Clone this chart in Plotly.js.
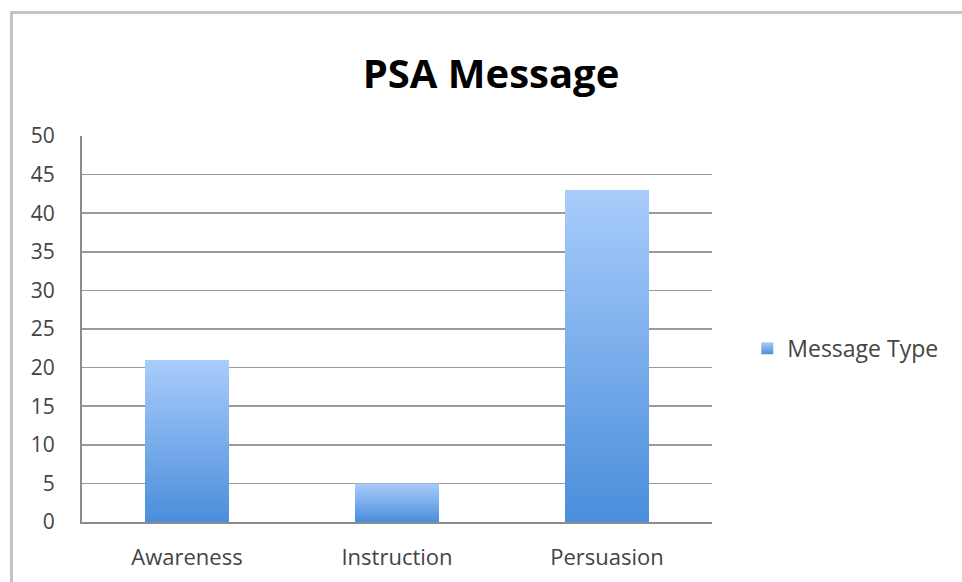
<!DOCTYPE html>
<html>
<head>
<meta charset="utf-8">
<script src="https://cdn.plot.ly/plotly-3.0.1.min.js"></script>
<style>
html,body{margin:0;padding:0;background:#fff;}
#wrap{position:relative;width:962px;height:582px;overflow:hidden;}
#chart{position:absolute;left:0;top:0;width:962px;height:582px;}
#frame{position:absolute;left:10px;top:11px;width:960px;height:600px;border-left:3px solid #c4c4c4;border-top:3px solid #c4c4c4;pointer-events:none;}
</style>
</head>
<body>
<div id="wrap"><div id="chart"></div><div id="frame"></div></div>
<script>
const categories = ["Awareness", "Instruction", "Persuasion"];
const messageType = [21, 5, 43];
const seriesName = "Message Type";
const yTicks = [0, 5, 10, 15, 20, 25, 30, 35, 40, 45, 50];

const font = "'Open Sans', 'Liberation Sans', sans-serif";

const trace = {
  type: "bar",
  x: categories,
  y: messageType,
  name: seriesName,
  showlegend: true,
  marker: {color: "#7aaeea", line: {width: 0}},
  hoverinfo: "x+y"
};

const layout = {
  width: 962,
  height: 582,
  paper_bgcolor: "#ffffff",
  plot_bgcolor: "#ffffff",
  margin: {l: 82, r: 250, t: 136, b: 60},
  bargap: 0.6,
  title: {
    text: "<b>PSA Message</b>",
    x: 491/962, xref: "container", xanchor: "center",
    y: 1 - 74/582, yref: "container", yanchor: "middle",
    font: {family: font, size: 40, color: "#000"}
  },
  font: {family: font, size: 22, color: "#444"},
  xaxis: {
    type: "category",
    showline: true, linecolor: "#8c8c8c", linewidth: 2,
    ticks: "", ticklabelstandoff: 15,
    tickfont: {family: font, size: 22, color: "#444"},
    showgrid: false, zeroline: false
  },
  yaxis: {
    range: [0, 50],
    tickvals: yTicks,
    ticktext: yTicks.map(String),
    showline: true, linecolor: "#8c8c8c", linewidth: 2,
    showgrid: true, gridcolor: "#9a9a9a", gridwidth: 1.5,
    zeroline: false, ticks: "", ticklabelstandoff: 21,
    tickfont: {family: font, size: 21, color: "#444"}
  },
  showlegend: true,
  legend: {
    x: 1.056, xanchor: "left", y: 0.45, yanchor: "middle",
    font: {family: font, size: 23, color: "#444"},
    bgcolor: "rgba(0,0,0,0)", itemwidth: 30
  }
};

Plotly.newPlot("chart", [trace], layout, {displayModeBar: false, staticPlot: true}).then(function(gd){
  const svg = gd.querySelector("svg.main-svg");
  const ns = "http://www.w3.org/2000/svg";
  let defs = svg.querySelector("defs");
  if (!defs) { defs = document.createElementNS(ns, "defs"); svg.insertBefore(defs, svg.firstChild); }
  const grad = document.createElementNS(ns, "linearGradient");
  grad.setAttribute("id", "barGrad");
  grad.setAttribute("x1", "0"); grad.setAttribute("y1", "0");
  grad.setAttribute("x2", "0"); grad.setAttribute("y2", "1");
  const s1 = document.createElementNS(ns, "stop");
  s1.setAttribute("offset", "0"); s1.setAttribute("stop-color", "#a9ccfb");
  const s2 = document.createElementNS(ns, "stop");
  s2.setAttribute("offset", "1"); s2.setAttribute("stop-color", "#4a8edb");
  grad.appendChild(s1); grad.appendChild(s2);
  defs.appendChild(grad);
  gd.querySelectorAll(".bars .point path, .legendpoints path").forEach(function(p){
    p.style.fill = "url(#barGrad)";
  });
});
</script>
</body>
</html>
